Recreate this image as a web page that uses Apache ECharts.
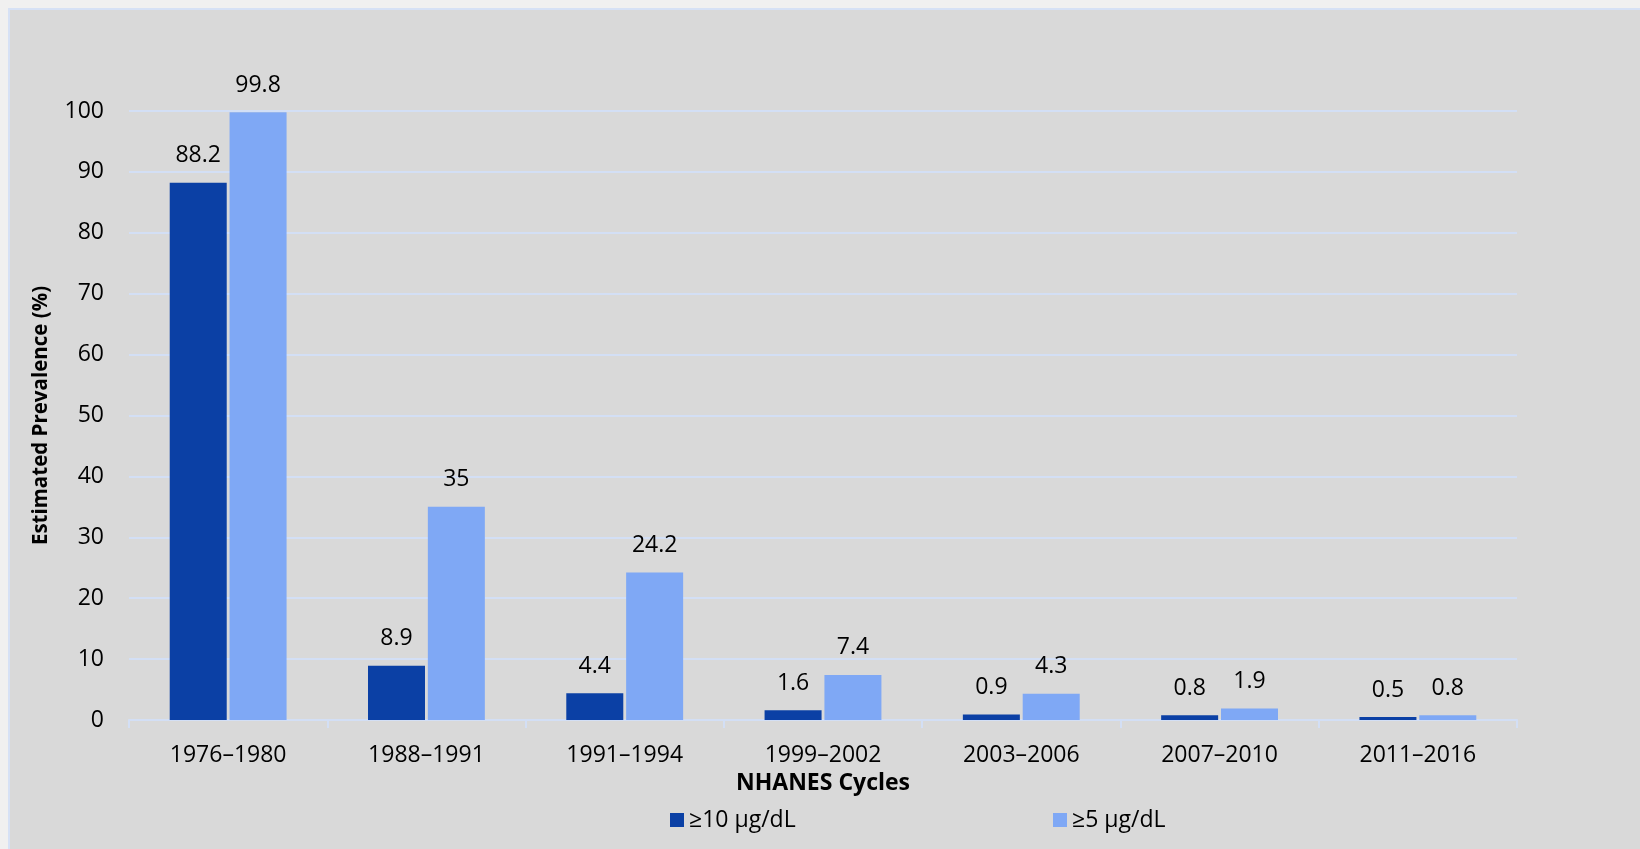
<!DOCTYPE html>
<html>
<head>
<meta charset="utf-8">
<script src="https://cdn.jsdelivr.net/npm/echarts@6/dist/echarts.min.js"></script>
<style>
html,body{margin:0;padding:0;background:#f0f0f0;}
#chart{width:1640px;height:849px;}
</style>
</head>
<body>
<div id="chart"></div>
<script>
const categories = ['1976–1980','1988–1991','1991–1994','1999–2002','2003–2006','2007–2010','2011–2016'];
const seriesNames = ['≥10 μg/dL','≥5 μg/dL'];
const ge10 = [88.2, 8.9, 4.4, 1.6, 0.9, 0.8, 0.5];
const ge5 = [99.8, 35, 24.2, 7.4, 4.3, 1.9, 0.8];
const yTicks = {min: 0, max: 100, interval: 10};

const FONT = '"Open Sans", "Noto Sans", sans-serif';
const chart = echarts.init(document.getElementById('chart'));
const labelStyle = {show: true, position: 'top', distance: 15, color: '#000', fontFamily: FONT, fontSize: 23, lineHeight: 24};

chart.setOption({
  animation: false,
  backgroundColor: '#f0f0f0',
  graphic: [{
    type: 'rect', left: 8, top: 8, z: -10,
    shape: {width: 1640, height: 849},
    style: {fill: '#d9d9d9', stroke: '#d6e1f5', lineWidth: 2}
  }],
  grid: {left: 129, right: 123, top: 111, bottom: 129, containLabel: false},
  legend: [
    {data: [seriesNames[0]], left: 665, top: 803, icon: 'rect', itemWidth: 14, itemHeight: 14,
     textStyle: {fontFamily: FONT, fontSize: 23, color: '#000', lineHeight: 24}},
    {data: [seriesNames[1]], left: 1048, top: 803, icon: 'rect', itemWidth: 14, itemHeight: 14,
     textStyle: {fontFamily: FONT, fontSize: 23, color: '#000', lineHeight: 24}}
  ],
  xAxis: {
    type: 'category', data: categories,
    name: 'NHANES Cycles', nameLocation: 'middle', nameGap: 50,
    nameTextStyle: {fontFamily: FONT, fontSize: 23, fontWeight: 'bold', color: '#000', lineHeight: 24},
    axisLine: {show: true, lineStyle: {color: '#d3dff5', width: 2}},
    axisTick: {show: true, length: 8, lineStyle: {color: '#d3dff5', width: 2}},
    axisLabel: {margin: 23, fontFamily: FONT, fontSize: 23, color: '#000', lineHeight: 24}
  },
  yAxis: {
    type: 'value', min: yTicks.min, max: yTicks.max, interval: yTicks.interval,
    name: 'Estimated Prevalence (%)', nameLocation: 'middle', nameGap: 74,
    nameTextStyle: {fontFamily: FONT, fontSize: 20.5, fontWeight: 'bold', color: '#000', lineHeight: 24},
    axisLine: {show: false}, axisTick: {show: false},
    axisLabel: {margin: 25, fontFamily: FONT, fontSize: 23, color: '#000'},
    splitLine: {lineStyle: {color: '#d3dff5', width: 2}}
  },
  series: [
    {name: seriesNames[0], type: 'bar', data: ge10, barWidth: 57, barGap: '5%',
     itemStyle: {color: '#0b40a5'}, label: labelStyle},
    {name: seriesNames[1], type: 'bar', data: ge5, barWidth: 57, barGap: '5%',
     itemStyle: {color: '#7fa8f5'}, label: labelStyle}
  ]
});
</script>
</body>
</html>
